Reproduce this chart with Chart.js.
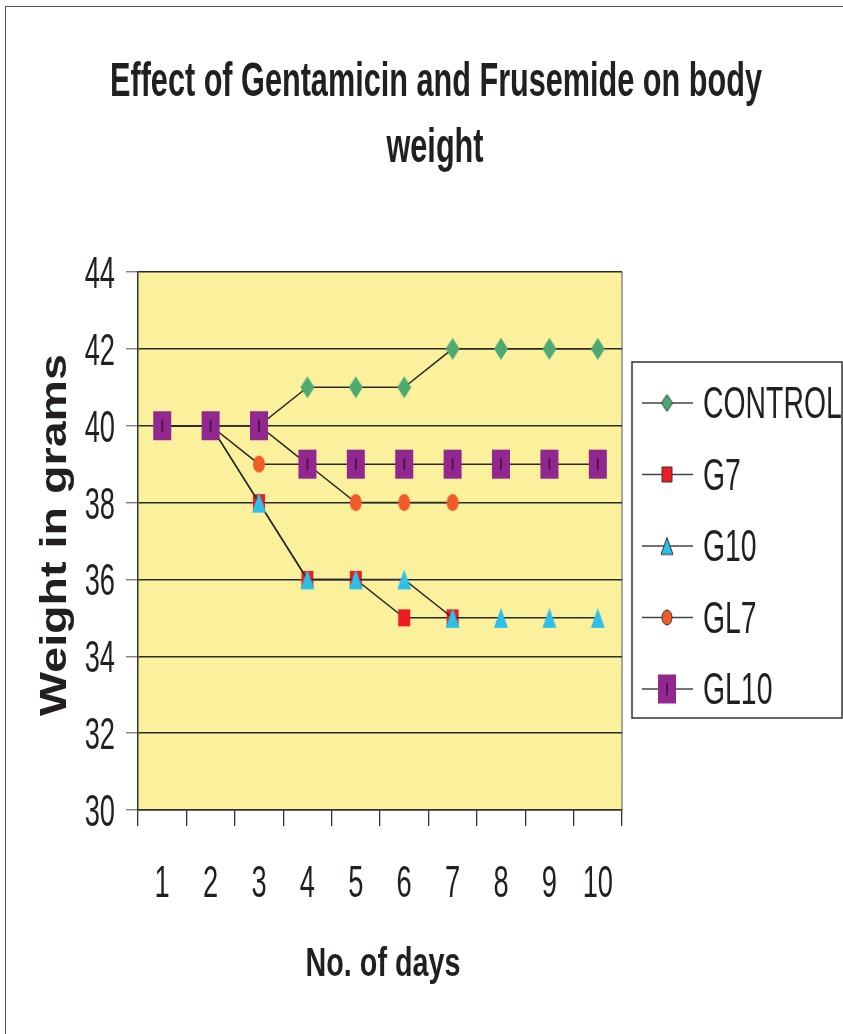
<!DOCTYPE html>
<html>
<head>
<meta charset="utf-8">
<script src="https://cdn.jsdelivr.net/npm/chart.js@4.4.1/dist/chart.umd.min.js"></script>
<style>
  html, body { margin: 0; padding: 0; background: #fff; overflow: hidden; }
  #wrap { position: relative; width: 843px; height: 1034px; }
  #frame { position: absolute; left: 5px; top: 6px; right: -10px; bottom: -10px;
           border-left: 1.5px solid #555; border-top: 1.5px solid #555; }
  canvas { position: absolute; left: 0; top: 0; }
</style>
</head>
<body>
<div id="wrap">
  <canvas id="chart" width="843" height="1034"></canvas>
  <div id="frame"></div>
</div>
<script>
const DAYS = ['1', '2', '3', '4', '5', '6', '7', '8', '9', '10'];
const CONTROL = [40, 40, 40, 41, 41, 41, 42, 42, 42, 42];
const G7      = [40, 40, 38, 36, 36, 35, 35, null, null, null];
const G10     = [40, 40, 38, 36, 36, 36, 35, 35, 35, 35];
const GL7     = [40, 40, 39, 39, 38, 38, 38, null, null, null];
const GL10    = [40, 40, 40, 39, 39, 39, 39, 39, 39, 39];
const SERIES_NAMES = ['CONTROL', 'G7', 'G10', 'GL7', 'GL10'];
const TITLE_LINES = ['Effect of Gentamicin and Frusemide on body', 'weight'];
const Y_TITLE = 'Weight in grams';
const X_TITLE = 'No. of days';

const SANS = '"Liberation Sans", Arial, sans-serif';

// marker pictures, used as pointStyle
function marker(shape, w, h, fill, outline) {
  const pad = 2;
  const c = document.createElement('canvas');
  c.width = w + pad * 2;
  c.height = h + pad * 2;
  const g = c.getContext('2d');
  g.translate(pad, pad);
  g.fillStyle = fill;
  g.beginPath();
  if (shape === 'diamond') {
    g.moveTo(w / 2, 0); g.lineTo(w, h / 2); g.lineTo(w / 2, h); g.lineTo(0, h / 2); g.closePath();
  } else if (shape === 'triangle') {
    g.moveTo(w / 2, 0); g.lineTo(w, h); g.lineTo(0, h); g.closePath();
  } else if (shape === 'ellipse') {
    g.ellipse(w / 2, h / 2, w / 2, h / 2, 0, 0, Math.PI * 2);
  } else {
    g.rect(0, 0, w, h);
  }
  g.fill();
  if (outline) { g.strokeStyle = outline; g.lineWidth = 1; g.stroke(); }
  if (shape === 'bar') {
    g.fillStyle = '#3b1237';
    g.fillRect(w / 2 - 0.75, h / 2 - 6, 1.5, 12);
  }
  return c;
}

const STYLES = [
  { shape: 'diamond',  w: 14, h: 22, lw: 11, lh: 17, fill: '#4fa972' },
  { shape: 'rect',     w: 12, h: 17, lw: 10, lh: 15, fill: '#ed1c24' },
  { shape: 'triangle', w: 14, h: 20, lw: 12, lh: 17, fill: '#2dc1ea' },
  { shape: 'ellipse',  w: 12, h: 17, lw: 10, lh: 15, fill: '#f15a29' },
  { shape: 'bar',      w: 18, h: 29, lw: 18, lh: 29, fill: '#92278f' }
];
const POINT_IMGS = STYLES.map(s => marker(s.shape, s.w, s.h, s.fill, null));
const LEGEND_IMGS = STYLES.map(s => marker(s.shape, s.lw, s.lh, s.fill, s.shape === 'bar' ? null : '#333'));

// condensed text: draw with horizontal squeeze
function ctext(ctx, str, x, y, font, sx, align) {
  ctx.save();
  ctx.font = font;
  ctx.textBaseline = 'alphabetic';
  ctx.textAlign = 'left';
  const w = ctx.measureText(str).width * sx;
  const x0 = align === 'center' ? x - w / 2 : align === 'right' ? x - w : x;
  ctx.translate(x0, y);
  ctx.scale(sx, 1);
  ctx.fillStyle = '#231f20';
  ctx.fillText(str, 0, 0);
  ctx.restore();
}
function fitScale(ctx, str, font, width) {
  ctx.save();
  ctx.font = font;
  const w = ctx.measureText(str).width;
  ctx.restore();
  return width / w;
}

const decor = {
  id: 'decor',
  beforeDraw(chart) {
    const { ctx, chartArea: a } = chart;
    ctx.save();
    ctx.fillStyle = '#fbf19c';
    ctx.fillRect(a.left, a.top, a.right - a.left, a.bottom - a.top);
    ctx.strokeStyle = '#8a8a8a';
    ctx.lineWidth = 1.5;
    ctx.beginPath();
    ctx.moveTo(a.right, a.top);
    ctx.lineTo(a.right, a.bottom);
    ctx.stroke();
    ctx.restore();
  },
  afterDraw(chart) {
    const { ctx } = chart;
    const xs = chart.scales.x, ys = chart.scales.y;
    const tickFont = '44px ' + SANS;

    // y tick labels
    ys.ticks.forEach((t, i) => {
      const y = ys.getPixelForTick(i);
      ctext(ctx, String(t.value), 115, y + 16, tickFont, 0.62, 'right');
    });
    // x tick labels
    xs.ticks.forEach((t, i) => {
      const x = xs.getPixelForTick(i);
      ctext(ctx, xs.getLabelForValue(t.value), x, 897, tickFont, 0.62, 'center');
    });

    // chart title
    const tFont = 'bold 48px ' + SANS;
    const tsx = fitScale(ctx, TITLE_LINES[0], tFont, 652);
    ctext(ctx, TITLE_LINES[0], 436, 96, tFont, tsx, 'center');
    ctext(ctx, TITLE_LINES[1], 435, 162, tFont, tsx, 'center');

    // x title
    const xFont = 'bold 40px ' + SANS;
    ctext(ctx, X_TITLE, 383, 976, xFont, fitScale(ctx, X_TITLE, xFont, 155), 'center');

    // y title (wide bold, rotated)
    const yFont = 'bold 36px ' + SANS;
    ctx.save();
    ctx.translate(66, 535);
    ctx.rotate(-Math.PI / 2);
    ctext(ctx, Y_TITLE, 0, 0, yFont, fitScale(ctx, Y_TITLE, yFont, 362), 'center');
    ctx.restore();

    // legend box
    ctx.save();
    ctx.strokeStyle = '#333';
    ctx.lineWidth = 1.5;
    ctx.strokeRect(632, 362, 210, 356);
    ctx.restore();
    const legFont = '44px ' + SANS;
    chart.data.datasets.forEach((ds, i) => {
      const cy = 403 + i * 71.5;
      ctx.save();
      ctx.strokeStyle = '#444';
      ctx.lineWidth = 1.3;
      ctx.beginPath();
      ctx.moveTo(642, cy);
      ctx.lineTo(693, cy);
      ctx.stroke();
      const img = LEGEND_IMGS[i];
      ctx.drawImage(img, 667 - img.width / 2, cy - img.height / 2);
      ctx.restore();
      ctext(ctx, ds.label, 703, cy + 15, legFont, 0.645, 'left');
    });
  }
};

const SERIES = [CONTROL, G7, G10, GL7, GL10];
const ORDERS = [4, 3, 1, 2, 0];

new Chart(document.getElementById('chart'), {
  type: 'line',
  data: {
    labels: DAYS,
    datasets: SERIES.map((values, i) => ({
      label: SERIES_NAMES[i],
      data: values,
      order: ORDERS[i],
      borderColor: '#2a2a2a',
      borderWidth: 1.5,
      pointStyle: POINT_IMGS[i],
      pointRadius: 10,
      pointHoverRadius: 10,
      fill: false,
      tension: 0,
      spanGaps: false
    }))
  },
  options: {
    responsive: false,
    animation: false,
    events: [],
    layout: { padding: { top: 272, left: 0, right: 221, bottom: 0 } },
    plugins: { legend: { display: false }, title: { display: false }, tooltip: { enabled: false } },
    scales: {
      x: {
        type: 'category',
        offset: true,
        ticks: { display: false },
        grid: { offset: true, drawOnChartArea: false, drawTicks: true, tickLength: 16, color: '#333', lineWidth: 1.3 },
        border: { color: '#333', width: 1.5 },
        afterFit(scale) { scale.height = 224; }
      },
      y: {
        min: 30,
        max: 44,
        ticks: { stepSize: 2, display: false },
        grid: { color: '#2a2a2a', lineWidth: 1.4, tickLength: 12, tickColor: '#808080' },
        border: { color: '#333', width: 1.5 },
        afterFit(scale) { scale.width = 138; }
      }
    }
  },
  plugins: [decor]
});
</script>
</body>
</html>
